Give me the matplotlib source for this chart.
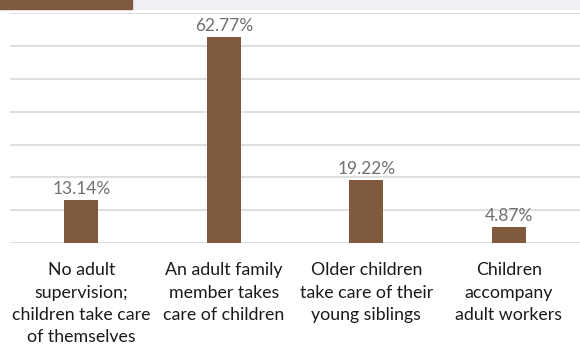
import matplotlib.pyplot as plt
from matplotlib.patches import Rectangle

categories = [
    "No adult\nsupervision;\nchildren take care\nof themselves",
    "An adult family\nmember takes\ncare of children",
    "Older children\ntake care of their\nyoung siblings",
    "Children\naccompany\nadult workers",
]
shares = [13.14, 62.77, 19.22, 4.87]

brown = "#7f5a3f"

plt.rcParams["font.family"] = ["Lato", "DejaVu Sans"]

fig = plt.figure(figsize=(5.8, 3.45), dpi=100)
ax = fig.add_axes([10 / 580, 102 / 345, 570 / 580, 229.6 / 345])

# header strip
fig.patches.append(Rectangle((0, 336 / 345), 1, 9 / 345, transform=fig.transFigure,
                             color="#eef0f3", zorder=0))
fig.patches.append(Rectangle((0, 336 / 345), 132 / 580, 9 / 345, transform=fig.transFigure,
                             color=brown, zorder=1))

x = range(len(categories))
bars = ax.bar(x, shares, width=0.24, color=brown, zorder=3)
for b, v in zip(bars, shares):
    ax.text(b.get_x() + b.get_width() / 2, v + 0.8, f"{v:.2f}%", ha="center", va="bottom",
            fontsize=12.5, color="#707070")

ax.set_xlim(-0.5, len(categories) - 0.5)
ax.set_ylim(0, 70)
ax.set_yticks(range(0, 71, 10))
ax.yaxis.grid(True, color="#d9d9d9", linewidth=1.2)
ax.tick_params(axis="y", left=False, labelleft=False)
ax.set_xticks(list(x))
ax.set_xticklabels(categories, fontsize=12.8, color="#1a1a1a", linespacing=1.47)
ax.tick_params(axis="x", length=0, pad=14)
for s in ax.spines.values():
    s.set_visible(False)
ax.set_axisbelow(True)

fig.savefig("out.png", dpi=100)
